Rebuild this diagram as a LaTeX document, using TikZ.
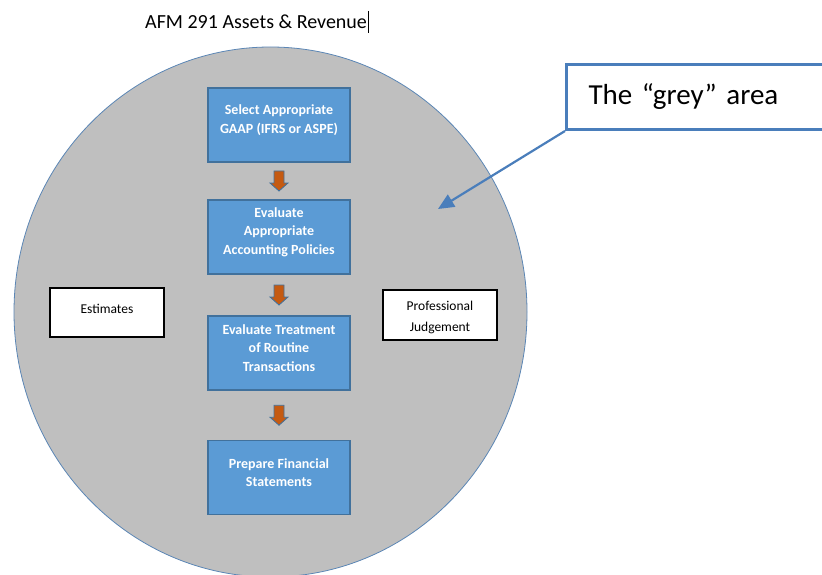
\documentclass[tikz,border=0pt]{standalone}
\usepackage{fontspec}
\setmainfont{Carlito}
\usetikzlibrary{arrows.meta,calc}
\definecolor{greyarea}{HTML}{BFBFBF}
\definecolor{ringblue}{HTML}{5B86B5}
\definecolor{stepfill}{HTML}{5B9BD5}
\definecolor{stepline}{HTML}{41719C}
\definecolor{arrfill}{HTML}{C55A11}
\definecolor{callblue}{HTML}{4A7EBB}
\tikzset{
  stepbox/.style={draw=stepline, line width=1.2pt, fill=stepfill,
    minimum width=142pt, minimum height=74pt, inner sep=0pt},
  steptext/.style={text=white, font=\fontsize{14}{18.5}\selectfont\bfseries,
    align=center, inner sep=0pt, yshift=5pt},
  sidebox/.style={draw=black, line width=1.2pt, fill=white,
    minimum width=114pt, minimum height=49pt, inner sep=0pt},
  sidetext/.style={font=\fontsize{13.5}{21}\selectfont, align=center, inner sep=0pt},
  downarr/.style={draw=stepline, line width=0.8pt, fill=arrfill},
  callout/.style={draw=callblue, line width=3pt, fill=white,
    font=\fontsize{29}{34}\selectfont, align=left, text width=226pt,
    inner xsep=22pt, minimum height=65pt}
}
\begin{document}
\begin{tikzpicture}[x=1pt, y=-1pt]
  \useasboundingbox (0,0) rectangle (822,575);
  \clip (0,0) rectangle (822,575);
  % heading with the text cursor after it
  \node[anchor=west, inner sep=0pt, font=\fontsize{20}{24}\selectfont] (title) at (145,22) {AFM 291 Assets \& Revenue};
  \draw[line width=0.8pt] ($(title.east)+(1.5,-11)$) -- ($(title.east)+(1.5,11)$);
  % the grey area
  \draw[ringblue, line width=0.8pt, fill=greyarea] (270.5,312) ellipse [x radius=256.5, y radius=265];
  % steps, text sits a little above the middle
  \node[stepbox, label={[steptext]center:{Select Appropriate\\GAAP (IFRS or ASPE)}}] (select) at (279,125) {};
  \node[stepbox, label={[steptext]center:{Evaluate\\Appropriate\\Accounting Policies}}] (policies) at (279,237) {};
  \node[stepbox, label={[steptext]center:{Evaluate Treatment\\of Routine\\Transactions}}] (routine) at (279,353) {};
  \node[stepbox, label={[steptext]center:{Prepare Financial\\Statements}}] (prepare) at (279,477.5) {};
  \foreach \a/\b in {select/policies, policies/routine, routine/prepare}
    \draw[downarr, shift={($(\a.south)!0.5!(\b.north)$)}]
      (-5,-10) -- (5,-10) -- (5,2) -- (9,2) -- (0,10) -- (-9,2) -- (-5,2) -- cycle;
  % side boxes
  \node[sidebox, label={[sidetext, yshift=4pt]center:Estimates}] (estimates) at (107,312.5) {};
  \node[sidebox, minimum height=50pt, label={[sidetext, yshift=-2pt]center:{Professional\\Judgement}}] (judgement) at (440,315) {};
  % callout
  \node[callout, anchor=north west] (greylabel) at (565,63) {The “grey” area};
  \coordinate (pointer) at (438,209);
  \draw[callblue, line width=2.2pt, -{Triangle[length=16pt,width=14pt]}] (greylabel.south west) -- (pointer);
\end{tikzpicture}
\end{document}
